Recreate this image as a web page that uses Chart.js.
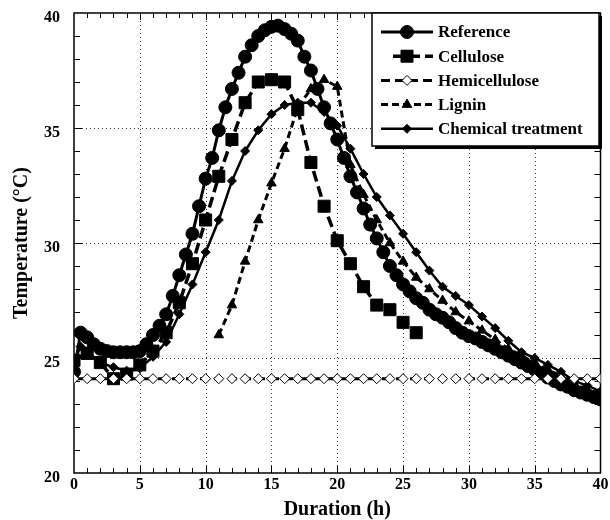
<!DOCTYPE html>
<html>
<head>
<meta charset="utf-8">
<script src="https://cdn.jsdelivr.net/npm/chart.js@4.4.1/dist/chart.umd.min.js"></script>
<style>
  html, body { margin: 0; padding: 0; background: #fff; }
  #wrap { width: 610px; height: 520px; }
</style>
</head>
<body>
<div id="wrap"><canvas id="chart" width="610" height="520"></canvas></div>
<script>
// values (hours, degrees C)
const refHours = [0, 0.5, 1, 1.5, 2, 2.5, 3, 3.5, 4, 4.5, 5, 5.5, 6, 6.5, 7, 7.5, 8, 8.5, 9, 9.5,
  10, 10.5, 11, 11.5, 12, 12.5, 13, 13.5, 14, 14.5, 15, 15.5, 16, 16.5, 17, 17.5, 18, 18.5, 19, 19.5,
  20, 20.5, 21, 21.5, 22, 22.5, 23, 23.5, 24, 24.5, 25, 25.5, 26, 26.5, 27, 27.5, 28, 28.5, 29, 29.5,
  30, 30.5, 31, 31.5, 32, 32.5, 33, 33.5, 34, 34.5, 35, 35.5, 36, 36.5, 37, 37.5, 38, 38.5, 39, 39.5, 40];
const refTemp = [24.4, 26.1, 25.9, 25.6, 25.4, 25.3, 25.25, 25.25, 25.25, 25.25, 25.3, 25.6, 26.0, 26.4, 26.9, 27.7, 28.6, 29.5, 30.4, 31.6,
  32.8, 33.7, 34.9, 35.9, 36.7, 37.4, 38.1, 38.6, 39.0, 39.25, 39.4, 39.45, 39.3, 39.1, 38.8, 38.1, 37.5, 36.7, 35.9, 35.2,
  34.5, 33.7, 32.9, 32.2, 31.5, 30.8, 30.2, 29.6, 29.0, 28.6, 28.2, 27.9, 27.6, 27.4, 27.1, 26.9, 26.75, 26.55, 26.3, 26.1,
  25.95, 25.85, 25.7, 25.55, 25.4, 25.25, 25.1, 24.95, 24.8, 24.65, 24.5, 24.35, 24.15, 24.0, 23.85, 23.75, 23.6, 23.5, 23.4, 23.3, 23.2];

const celHours = [0, 1, 2, 3, 4, 5, 6, 7, 8, 9, 10, 11, 12, 13, 14, 15, 16, 17, 18, 19, 20, 21, 22, 23, 24, 25, 26];
const celTemp = [24.9, 25.2, 24.8, 24.1, 24.3, 24.7, 25.3, 26.1, 27.4, 29.1, 31.0, 32.9, 34.5, 36.1, 37.0, 37.1, 37.0, 35.8,
  33.5, 31.6, 30.1, 29.1, 28.1, 27.3, 27.1, 26.55, 26.1];

const hemHours = [0, 1, 2, 3, 4, 5, 6, 7, 8, 9, 10, 11, 12, 13, 14, 15, 16, 17, 18, 19, 20,
  21, 22, 23, 24, 25, 26, 27, 28, 29, 30, 31, 32, 33, 34, 35, 36, 37, 38, 39, 40];
const hemTemp = [24.1, 24.1, 24.1, 24.1, 24.1, 24.1, 24.1, 24.1, 24.1, 24.1, 24.1, 24.1, 24.1, 24.1, 24.1, 24.1, 24.1, 24.1, 24.1, 24.1, 24.1,
  24.1, 24.1, 24.1, 24.1, 24.1, 24.1, 24.1, 24.1, 24.1, 24.1, 24.1, 24.1, 24.1, 24.1, 24.1, 24.1, 24.1, 24.1, 24.1, 24.1];

const ligHours = [11, 12, 13, 14, 15, 16, 17, 18, 19, 20, 21, 22, 23, 24, 25, 26, 27, 28, 29, 30,
  31, 32, 33, 34, 35, 36, 37, 38, 39, 40];
const ligTemp = [26.0, 27.3, 29.2, 31.0, 32.6, 34.1, 35.9, 36.7, 37.1, 36.8, 33.4, 32.1, 31.0, 30.0, 29.2, 28.5, 28.0, 27.5, 27.0, 26.6,
  26.2, 25.8, 25.4, 25.1, 24.8, 24.5, 24.2, 23.9, 23.6, 23.4];

const chemHours = [0, 0.5, 1, 2, 3, 4, 5, 6, 7, 8, 9, 10, 11, 12, 13, 14, 15, 16, 17, 18, 19, 20,
  21, 22, 23, 24, 25, 26, 27, 28, 29, 30, 31, 32, 33, 34, 35, 36, 37, 38, 39, 40];
const chemTemp = [24.8, 25.5, 25.3, 24.8, 24.6, 24.45, 24.55, 25.05, 25.7, 26.9, 28.2, 29.6, 31.0, 32.7, 34.0, 34.9, 35.6, 36.0, 36.1, 36.1, 35.7, 35.1,
  34.1, 33.0, 32.0, 31.2, 30.4, 29.6, 28.8, 28.1, 27.7, 27.3, 26.8, 26.3, 25.75, 25.25, 25.0, 24.7, 24.4, 24.0, 23.8, 23.55];

const xGrid = [5, 10, 15, 20, 25, 30, 35];
const yGrid = [25, 30, 35];

const legendOrder = ['Reference', 'Cellulose', 'Hemicellulose', 'Lignin', 'Chemical treatment'];

const serif = "'Liberation Serif', 'Times New Roman', serif";

function pts(xs, ys) {
  return xs.map((x, i) => ({x: x, y: ys[i]}));
}

// dotted grid, frame, and inward ticks on all four sides
const framePlugin = {
  id: 'frame',
  beforeDatasetsDraw(chart) {
    const {ctx, chartArea: a, scales: {x, y}} = chart;
    ctx.save();
    ctx.strokeStyle = '#333';
    ctx.lineWidth = 1;
    ctx.setLineDash([1, 3]);
    ctx.beginPath();
    xGrid.forEach(v => {
      const px = Math.round(x.getPixelForValue(v)) + 0.5;
      ctx.moveTo(px, a.top); ctx.lineTo(px, a.bottom);
    });
    yGrid.forEach(v => {
      const py = Math.round(y.getPixelForValue(v)) + 0.5;
      ctx.moveTo(a.left, py); ctx.lineTo(a.right, py);
    });
    ctx.stroke();
    ctx.setLineDash([]);
    ctx.strokeStyle = '#000';
    for (let v = 1; v < 40; v++) {
      const px = Math.round(x.getPixelForValue(v)) + 0.5;
      const len = v % 5 === 0 ? 7 : 5;
      ctx.beginPath();
      ctx.moveTo(px, a.bottom); ctx.lineTo(px, a.bottom - len);
      ctx.moveTo(px, a.top); ctx.lineTo(px, a.top + len);
      ctx.stroke();
    }
    for (let v = 21; v < 40; v++) {
      const py = Math.round(y.getPixelForValue(v)) + 0.5;
      const len = v % 5 === 0 ? 8 : 6;
      ctx.beginPath();
      ctx.moveTo(a.left, py); ctx.lineTo(a.left + len, py);
      ctx.moveTo(a.right, py); ctx.lineTo(a.right - len, py);
      ctx.stroke();
    }
    ctx.lineWidth = 1.5;
    ctx.strokeRect(a.left, a.top, a.right - a.left, a.bottom - a.top);
    ctx.restore();
  }
};

// boxed legend with line samples, drawn from the dataset styles
const legendPlugin = {
  id: 'boxLegend',
  afterDraw(chart) {
    const ctx = chart.ctx;
    const bx = 372, by = 13, bw = 227, bh = 133;
    ctx.save();
    ctx.fillStyle = '#000';
    ctx.fillRect(bx + 3, by + 3, bw, bh);
    ctx.fillStyle = '#fff';
    ctx.fillRect(bx, by, bw, bh);
    ctx.strokeStyle = '#000';
    ctx.lineWidth = 1.5;
    ctx.strokeRect(bx, by, bw, bh);
    ctx.font = 'bold 17px ' + serif;
    ctx.textBaseline = 'middle';
    legendOrder.forEach((name, i) => {
      const ds = chart.data.datasets.find(d => d.label === name);
      const ry = 32 + i * 24.2;
      ctx.save();
      ctx.strokeStyle = '#000';
      ctx.lineWidth = ds.borderWidth;
      ctx.setLineDash(ds.borderDash || []);
      ctx.beginPath();
      ctx.moveTo(name === 'Cellulose' ? 393 : 381, ry);
      ctx.lineTo(433, ry);
      ctx.stroke();
      ctx.setLineDash([]);
      ctx.fillStyle = ds.pointBackgroundColor;
      ctx.strokeStyle = '#000';
      ctx.lineWidth = ds.pointBorderWidth;
      Chart.helpers.drawPoint(ctx, {pointStyle: ds.pointStyle, radius: ds.pointRadius, borderWidth: ds.pointBorderWidth, rotation: 0}, 407, ry);
      ctx.restore();
      ctx.fillStyle = '#000';
      ctx.fillText(name, 438, ry + 1);
    });
    ctx.restore();
  }
};

const noLines = {display: true, color: 'rgba(0,0,0,0)', drawTicks: false, drawOnChartArea: false};

new Chart(document.getElementById('chart'), {
  type: 'scatter',
  data: {
    datasets: [
      {label: 'Hemicellulose', data: pts(hemHours, hemTemp), showLine: true,
        borderColor: '#000', borderWidth: 3, borderDash: [9, 5],
        pointStyle: 'rectRot', pointRadius: 5, pointBorderWidth: 1,
        pointBackgroundColor: '#fff', pointBorderColor: '#000'},
      {label: 'Lignin', data: pts(ligHours, ligTemp), showLine: true,
        borderColor: '#000', borderWidth: 3, borderDash: [7, 4],
        pointStyle: 'triangle', pointRadius: 5.5, pointBorderWidth: 1,
        pointBackgroundColor: '#000', pointBorderColor: '#000'},
      {label: 'Cellulose', data: pts(celHours, celTemp), showLine: true,
        borderColor: '#000', borderWidth: 3.5, borderDash: [11, 5],
        pointStyle: 'rect', pointRadius: 8.5, pointBorderWidth: 1,
        pointBackgroundColor: '#000', pointBorderColor: '#000'},
      {label: 'Chemical treatment', data: pts(chemHours, chemTemp), showLine: true,
        borderColor: '#000', borderWidth: 2.5,
        pointStyle: 'rectRot', pointRadius: 4.5, pointBorderWidth: 1,
        pointBackgroundColor: '#000', pointBorderColor: '#000'},
      {label: 'Reference', data: pts(refHours, refTemp), showLine: true,
        borderColor: '#000', borderWidth: 3,
        pointStyle: 'circle', pointRadius: 6.5, pointBorderWidth: 1,
        pointBackgroundColor: '#000', pointBorderColor: '#000'}
    ]
  },
  options: {
    responsive: false,
    animation: false,
    devicePixelRatio: 1,
    layout: {padding: {top: 13, right: 7, left: 0, bottom: 0}},
    plugins: {legend: {display: false}, tooltip: {enabled: false}},
    elements: {line: {tension: 0}},
    scales: {
      x: {
        type: 'linear', min: 0, max: 40,
        afterFit: (s) => { s.height = 47; s.paddingLeft = 0; s.paddingRight = 0; },
        border: {display: false},
        grid: noLines,
        ticks: {stepSize: 1, autoSkip: false, maxRotation: 0, padding: 2, color: '#000',
          font: {family: serif, size: 16, weight: 'bold'},
          callback: (v) => v % 5 === 0 ? v : ''},
        title: {display: true, text: 'Duration (h)', color: '#000', padding: 0,
          font: {family: serif, size: 20, weight: 'bold', lineHeight: 1}}
      },
      y: {
        type: 'linear', min: 20, max: 40,
        afterFit: (s) => { s.width = 74; s.paddingTop = 0; s.paddingBottom = 0; },
        border: {display: false},
        grid: noLines,
        ticks: {stepSize: 1, autoSkip: false, padding: 14, labelOffset: 5, color: '#000',
          font: {family: serif, size: 16, weight: 'bold'},
          callback: (v) => v % 5 === 0 ? v : ''},
        title: {display: true, text: 'Temperature (°C)', color: '#000', padding: {top: 12, bottom: 0},
          font: {family: serif, size: 20, weight: 'bold', lineHeight: 1}}
      }
    }
  },
  plugins: [framePlugin, legendPlugin]
});
</script>
</body>
</html>
